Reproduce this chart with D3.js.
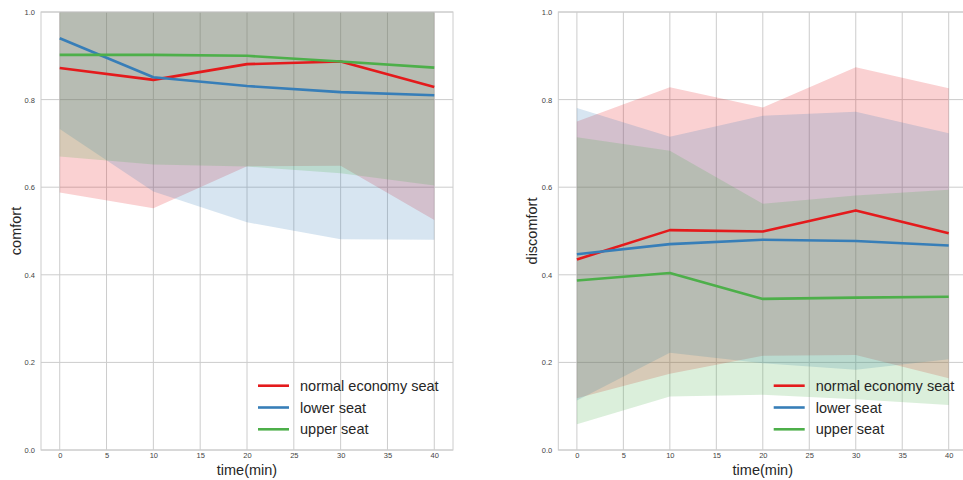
<!DOCTYPE html>
<html>
<head>
<meta charset="utf-8">
<script src="https://cdn.jsdelivr.net/npm/d3@7"></script>
<style>
  html, body { margin: 0; padding: 0; background: #fff; }
  svg { display: block; font-family: "Liberation Sans", Arial, sans-serif; }
</style>
</head>
<body>
<svg id="chart" width="963" height="480"></svg>
<script>
// Measurement times (minutes)
const times = [0, 10, 20, 30, 40];
const xTicks = [0, 5, 10, 15, 20, 25, 30, 35, 40];
const yTicks = [0, 0.2, 0.4, 0.6, 0.8, 1.0];
const seriesNames = ["normal economy seat", "lower seat", "upper seat"];
const seriesColors = ["#e41a1c", "#377eb8", "#4daf4a"];

// Comfort: means and band bounds
const comfortNormal = [0.872, 0.845, 0.881, 0.887, 0.829];
const comfortLower  = [0.940, 0.851, 0.831, 0.817, 0.810];
const comfortUpper  = [0.902, 0.902, 0.900, 0.887, 0.873];
const comfortNormalLo = [0.588, 0.552, 0.648, 0.649, 0.525];
const comfortNormalHi = [1.0, 1.0, 1.0, 1.0, 1.0];
const comfortLowerLo  = [0.733, 0.590, 0.520, 0.481, 0.480];
const comfortLowerHi  = [1.0, 1.0, 1.0, 1.0, 1.0];
const comfortUpperLo  = [0.670, 0.652, 0.647, 0.632, 0.604];
const comfortUpperHi  = [1.0, 1.0, 1.0, 1.0, 1.0];

// Discomfort: means and band bounds
const discomfortNormal = [0.435, 0.502, 0.499, 0.547, 0.495];
const discomfortLower  = [0.447, 0.470, 0.480, 0.477, 0.467];
const discomfortUpper  = [0.387, 0.404, 0.345, 0.348, 0.350];
const discomfortNormalLo = [0.118, 0.174, 0.215, 0.217, 0.164];
const discomfortNormalHi = [0.750, 0.828, 0.782, 0.874, 0.826];
const discomfortLowerLo  = [0.113, 0.222, 0.198, 0.183, 0.207];
const discomfortLowerHi  = [0.781, 0.715, 0.763, 0.772, 0.723];
const discomfortUpperLo  = [0.059, 0.122, 0.126, 0.116, 0.103];
const discomfortUpperHi  = [0.714, 0.683, 0.562, 0.581, 0.594];

const svg = d3.select("#chart");
const gridColor = "#cccccc";
const textColor = "#262626";

function drawPanel(opts) {
  const { left, right, top, bottom, yLabel, yLabelX, means, los, his, id } = opts;
  const x = d3.scaleLinear().domain([-2, 42]).range([left, right]);
  const y = d3.scaleLinear().domain([0, 1]).range([bottom, top]);

  const g = svg.append("g");

  g.append("clipPath").attr("id", id)
    .append("rect")
    .attr("x", left).attr("y", top)
    .attr("width", right - left).attr("height", bottom - top);

  // grid
  g.append("g").selectAll("line").data(yTicks).join("line")
    .attr("x1", left).attr("x2", right)
    .attr("y1", d => y(d)).attr("y2", d => y(d))
    .attr("stroke", gridColor).attr("stroke-width", 1);
  g.append("g").selectAll("line").data(xTicks).join("line")
    .attr("x1", d => x(d)).attr("x2", d => x(d))
    .attr("y1", top).attr("y2", bottom)
    .attr("stroke", gridColor).attr("stroke-width", 1);

  // bands
  const bands = g.append("g").attr("clip-path", `url(#${id})`);
  seriesNames.forEach((name, i) => {
    const area = d3.area()
      .x((d, k) => x(times[k]))
      .y0((d, k) => y(los[i][k]))
      .y1((d, k) => y(his[i][k]));
    bands.append("path")
      .datum(times)
      .attr("d", area)
      .attr("fill", seriesColors[i])
      .attr("fill-opacity", 0.2)
      .attr("stroke", "none");
  });

  // mean lines
  const lines = g.append("g").attr("clip-path", `url(#${id})`);
  seriesNames.forEach((name, i) => {
    const line = d3.line()
      .x((d, k) => x(times[k]))
      .y(d => y(d));
    lines.append("path")
      .datum(means[i])
      .attr("d", line)
      .attr("fill", "none")
      .attr("stroke", seriesColors[i])
      .attr("stroke-width", 2.6)
      .attr("stroke-linejoin", "round");
  });

  // frame
  g.append("rect")
    .attr("x", left).attr("y", top)
    .attr("width", right - left).attr("height", bottom - top)
    .attr("fill", "none").attr("stroke", gridColor).attr("stroke-width", 1);

  // tick labels
  const yAxis = d3.axisLeft(y).tickValues(yTicks).tickFormat(d3.format(".1f")).tickSize(0).tickPadding(6);
  const ya = g.append("g").attr("transform", `translate(${left},0)`).call(yAxis);
  ya.select(".domain").remove();
  ya.selectAll("text").attr("font-size", 7.5).attr("fill", "#444").attr("font-family", "Liberation Sans, Arial, sans-serif");

  const xAxis = d3.axisBottom(x).tickValues(xTicks).tickFormat(d3.format("d")).tickSize(0).tickPadding(3);
  const xa = g.append("g").attr("transform", `translate(0,${bottom})`).call(xAxis);
  xa.select(".domain").remove();
  xa.selectAll("text").attr("font-size", 7.5).attr("fill", "#444").attr("font-family", "Liberation Sans, Arial, sans-serif");

  // axis labels
  g.append("text")
    .attr("transform", `translate(${yLabelX},${(top + bottom) / 2}) rotate(-90)`)
    .attr("text-anchor", "middle")
    .attr("dominant-baseline", "central")
    .attr("font-size", 14.5).attr("fill", textColor)
    .text(yLabel);
  g.append("text")
    .attr("x", x(20)).attr("y", 470)
    .attr("text-anchor", "middle")
    .attr("dominant-baseline", "central")
    .attr("font-size", 14.5).attr("fill", textColor)
    .text("time(min)");

  // legend
  const legX = opts.legendX;
  const legRows = [385.7, 407.5, 429.3];
  const leg = g.append("g");
  seriesNames.forEach((name, i) => {
    leg.append("line")
      .attr("x1", legX).attr("x2", legX + 31)
      .attr("y1", legRows[i]).attr("y2", legRows[i])
      .attr("stroke", seriesColors[i]).attr("stroke-width", 2.6);
    leg.append("text")
      .attr("x", legX + 42).attr("y", legRows[i])
      .attr("dominant-baseline", "central")
      .attr("font-size", 14.5).attr("fill", textColor)
      .text(name);
  });
}

drawPanel({
  id: "clipComfort",
  left: 41, right: 453, top: 12, bottom: 450,
  yLabel: "comfort", yLabelX: 16,
  means: [comfortNormal, comfortLower, comfortUpper],
  los: [comfortNormalLo, comfortLowerLo, comfortUpperLo],
  his: [comfortNormalHi, comfortLowerHi, comfortUpperHi],
  legendX: 258
});

drawPanel({
  id: "clipDiscomfort",
  left: 558.3, right: 967.3, top: 12, bottom: 450,
  yLabel: "discomfort", yLabelX: 532,
  means: [discomfortNormal, discomfortLower, discomfortUpper],
  los: [discomfortNormalLo, discomfortLowerLo, discomfortUpperLo],
  his: [discomfortNormalHi, discomfortLowerHi, discomfortUpperHi],
  legendX: 773.7
});
</script>
</body>
</html>
